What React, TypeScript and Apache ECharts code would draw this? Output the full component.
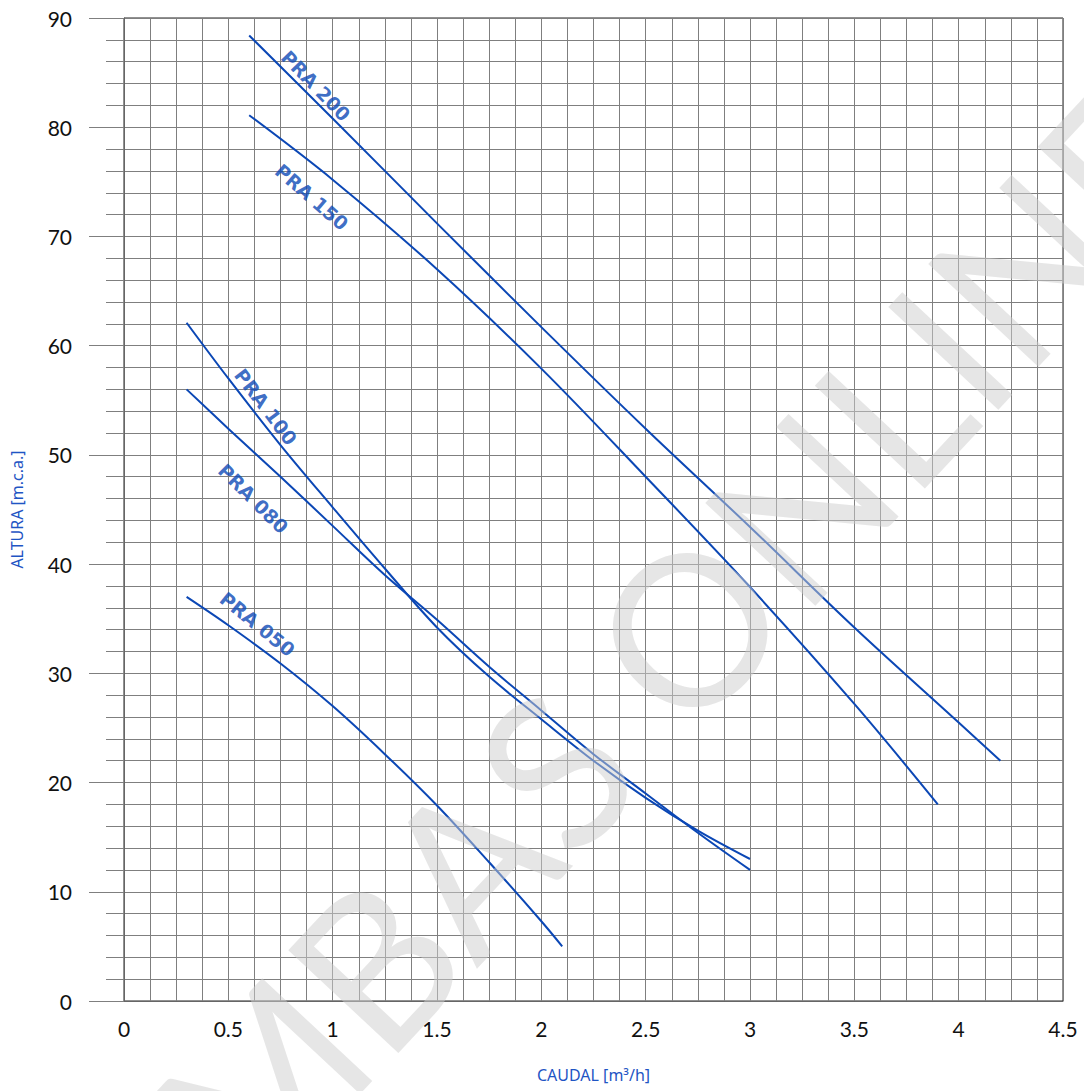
import React, { useEffect, useRef } from "react";
import * as echarts from "echarts";

// Pump curves: [Caudal m3/h, Altura m.c.a.]
const PRA_200: number[][] = [
  [0.6, 88.4], [1.0, 80.8], [1.5, 71.2], [2.0, 61.7], [2.5, 52.4],
  [3.0, 43.4], [3.5, 34.2], [4.0, 25.5], [4.2, 22.0],
];
const PRA_150: number[][] = [
  [0.6, 81.1], [1.0, 75.2], [1.5, 67.0], [2.0, 57.9], [2.5, 48.0],
  [3.0, 37.9], [3.5, 27.2], [3.9, 18.0],
];
const PRA_100: number[][] = [
  [0.3, 62.1], [0.5, 57.0], [0.75, 50.9], [1.0, 45.2], [1.25, 39.6],
  [1.5, 34.2], [1.75, 29.7], [2.0, 25.8], [2.25, 22.0], [2.5, 18.6],
  [2.75, 15.6], [3.0, 13.0],
];
const PRA_080: number[][] = [
  [0.3, 56.0], [0.5, 52.4], [0.75, 48.0], [1.0, 43.5], [1.25, 39.0],
  [1.5, 34.9], [1.75, 30.6], [2.0, 26.6], [2.25, 22.6], [2.5, 19.0],
  [2.75, 15.4], [3.0, 12.0],
];
const PRA_050: number[][] = [
  [0.3, 37.0], [0.5, 34.4], [0.75, 30.9], [1.0, 27.0], [1.25, 22.6],
  [1.5, 17.9], [1.75, 12.7], [2.0, 7.3], [2.1, 5.0],
];

const SERIES_NAMES = ["PRA 200", "PRA 150", "PRA 100", "PRA 080", "PRA 050"];
const SERIES_DATA = [PRA_200, PRA_150, PRA_100, PRA_080, PRA_050];

// Curve labels anchored in data coordinates, with text angle (deg)
const LABEL_X = [0.92, 0.9, 0.68, 0.62, 0.64];
const LABEL_Y = [83.8, 73.6, 54.4, 46.0, 34.5];
const LABEL_ANGLE = [-46, -41, -53, -45, -39];

const X_MIN = 0;
const X_MAX = 4.5;
const X_STEP = 0.5;
const Y_MIN = 0;
const Y_MAX = 90;
const Y_STEP = 10;

const X_NAME = "CAUDAL [m³/h]";
const Y_NAME = "ALTURA [m.c.a.]";
const WATERMARK = "BOMBAS ONLINE";

const BLUE = "#0b47b5";
const GRID = "#7f7f7f";

export default function App() {
  const ref = useRef<HTMLDivElement>(null);
  useEffect(() => {
    document.body.style.margin = "0";
    if (!ref.current) return;
    const chart = echarts.init(ref.current, undefined, { renderer: "svg" });
    const lineSeries = SERIES_DATA.map((d, i) => ({
      type: "line",
      name: SERIES_NAMES[i],
      data: d,
      smooth: 0.35,
      symbol: "none",
      lineStyle: { color: BLUE, width: 2 },
      z: 5,
    }));
    const labelSeries = {
      type: "scatter",
      symbolSize: 0,
      silent: true,
      z: 6,
      data: SERIES_NAMES.map((n, i) => ({
        value: [LABEL_X[i], LABEL_Y[i]],
        name: n,
        label: { rotate: LABEL_ANGLE[i] },
      })),
      label: {
        show: true,
        position: "inside",
        formatter: (p: any) => p.name,
        fontFamily: "DejaVu Sans",
        fontWeight: "bold",
        fontSize: 19,
        color: BLUE,
      },
    };
    chart.setOption({
      animation: false,
      backgroundColor: "#ffffff",
      textStyle: { fontFamily: "Lato" },
      grid: {
        left: 124,
        right: 21,
        top: 18,
        bottom: 90,
        containLabel: false,
        outerBoundsMode: "none",
        show: true,
        borderColor: "#222",
        borderWidth: 1,
        backgroundColor: "transparent",
      },
      xAxis: {
        type: "value",
        min: X_MIN,
        max: X_MAX,
        interval: X_STEP,
        name: X_NAME,
        nameLocation: "middle",
        nameGap: 66,
        nameTextStyle: { color: "#1f55c4", fontSize: 16, fontFamily: "Noto Sans" },
        axisLine: { show: true, lineStyle: { color: "#666", width: 1 } },
        axisTick: { show: false },
        axisLabel: { color: "#111", fontSize: 21, margin: 17, fontFamily: "Lato" },
        splitLine: { show: true, lineStyle: { color: GRID, width: 1 } },
        minorTick: { show: false, splitNumber: 4 },
        minorSplitLine: { show: true, lineStyle: { color: GRID, width: 1 } },
      },
      yAxis: {
        type: "value",
        min: Y_MIN,
        max: Y_MAX,
        interval: Y_STEP,
        name: Y_NAME,
        nameLocation: "middle",
        nameGap: 99,
        nameRotate: 90,
        nameTextStyle: { color: "#1f55c4", fontSize: 16, fontFamily: "Noto Sans" },
        axisLine: { show: true, lineStyle: { color: "#666", width: 1 } },
        axisTick: { show: true, length: 35, lineStyle: { color: GRID, width: 1 } },
        axisLabel: { color: "#111", fontSize: 21, margin: 52, fontFamily: "Lato" },
        splitLine: { show: true, lineStyle: { color: GRID, width: 1 } },
        minorTick: { show: true, splitNumber: 5, length: 18, lineStyle: { color: GRID, width: 1 } },
        minorSplitLine: { show: true, lineStyle: { color: GRID, width: 1 } },
      },
      graphic: [
        {
          type: "text",
          x: 572,
          y: 748,
          rotation: 0.82,
          z: 100,
          silent: true,
          style: {
            text: WATERMARK,
            fontFamily: "Lato",
            fontSize: 210,
            fill: "rgba(205,205,205,0.5)",
            align: "center",
            verticalAlign: "middle",
          },
        },
      ],
      series: [...lineSeries, labelSeries],
    });
    return () => chart.dispose();
  }, []);
  return <div ref={ref} style={{ width: 1084, height: 1091 }} />;
}
